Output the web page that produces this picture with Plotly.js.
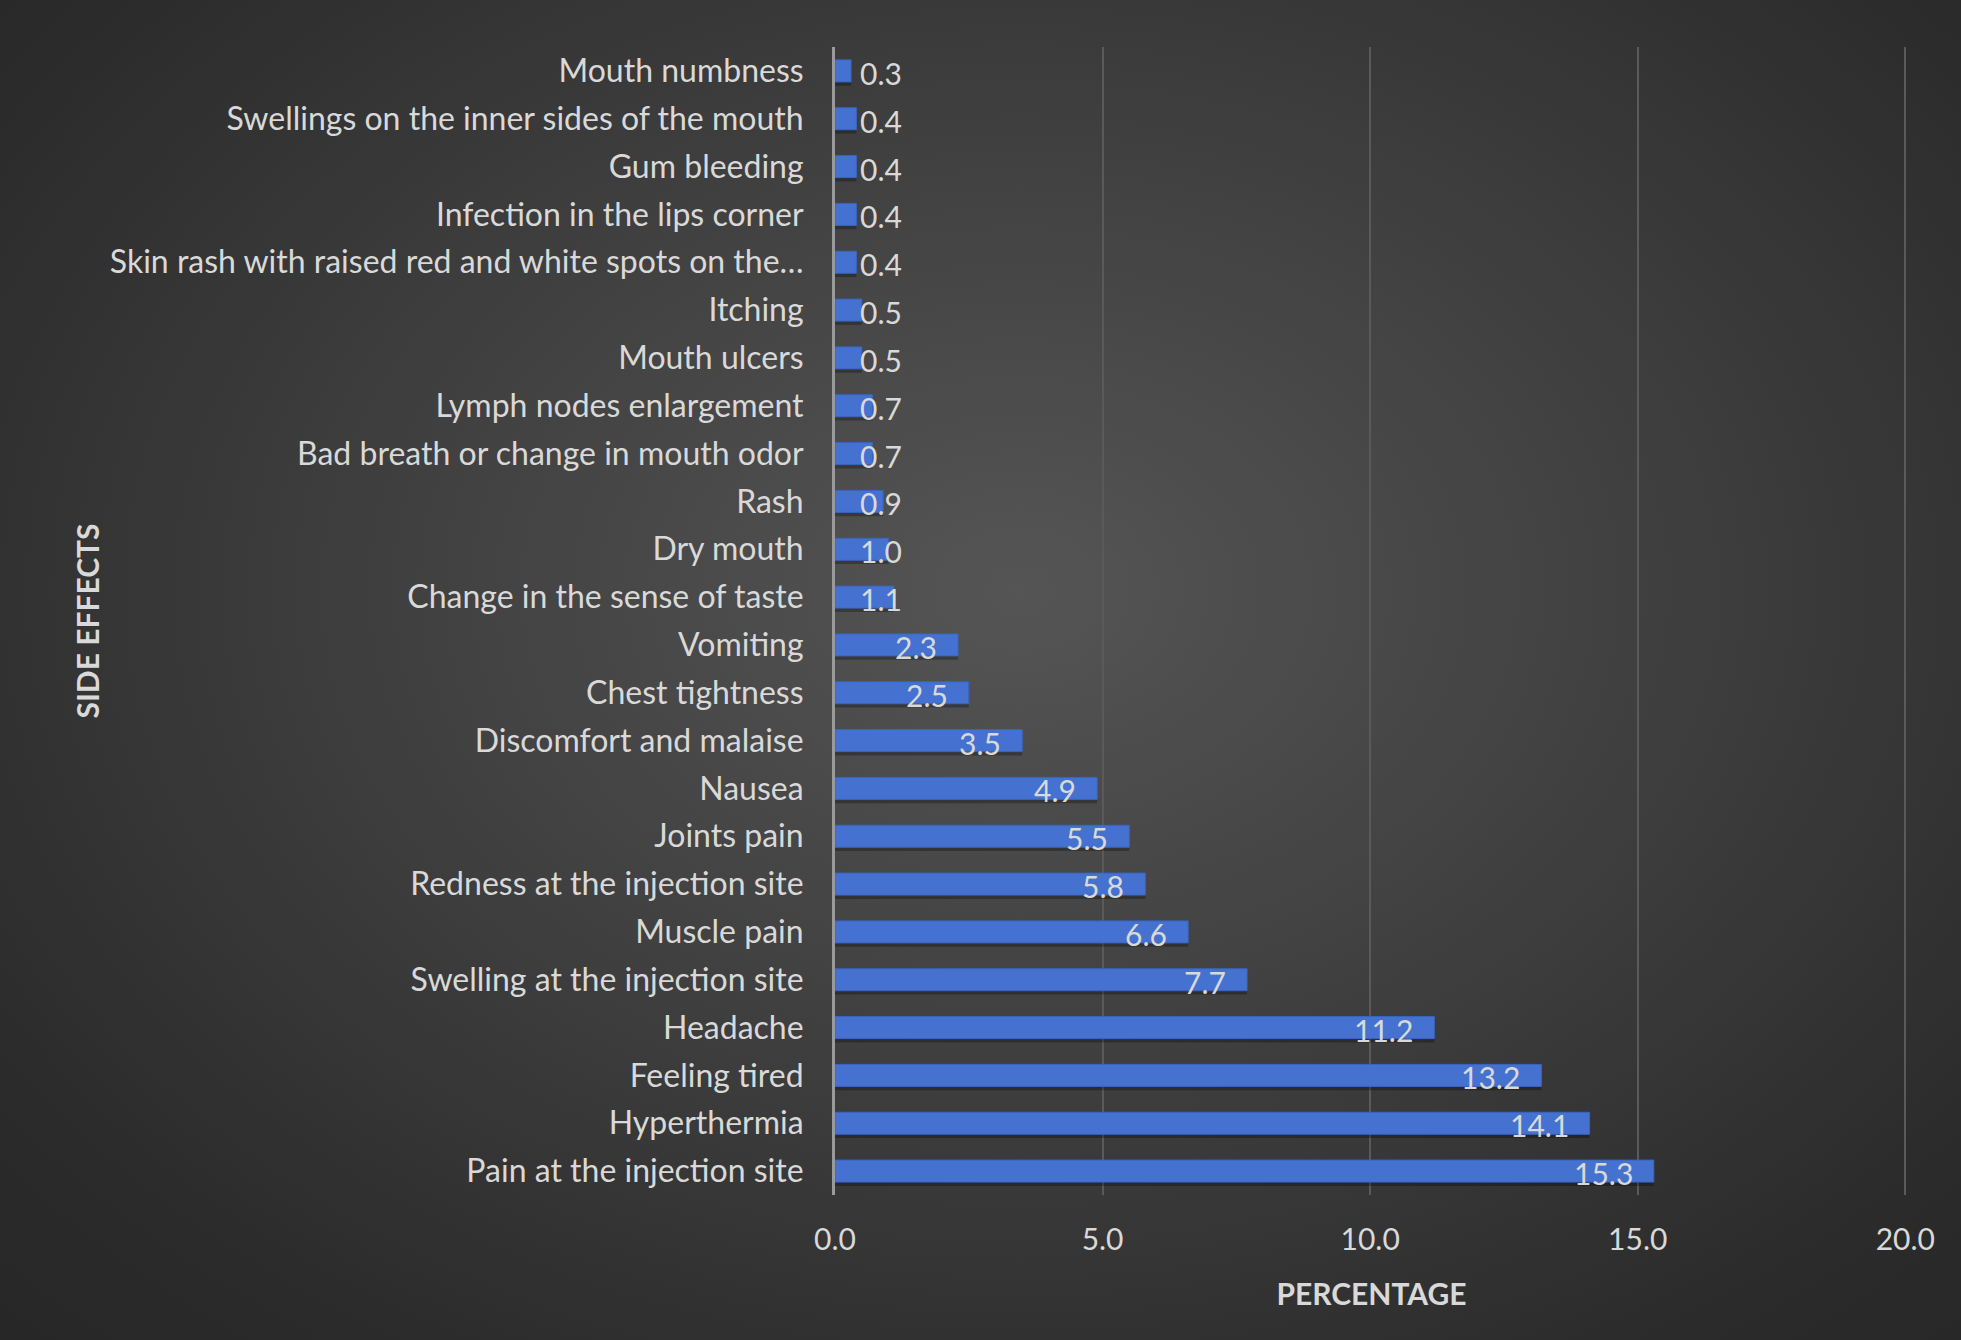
<!DOCTYPE html>
<html>
<head>
<meta charset="utf-8">
<script src="https://cdn.plot.ly/plotly-3.0.1.min.js"></script>
<style>
html, body { margin:0; padding:0; width:1961px; height:1340px; overflow:hidden; }
body { background: radial-gradient(ellipse 75% 80% at 52% 44%, #555555 0%, #414141 40%, #2c2c2c 80%, #262626 100%); }
#chart { width:1961px; height:1340px; }
</style>
</head>
<body>
<div id="chart"></div>
<script>
// Categories from bottom to top
const categories = [
  "Pain at the injection site",
  "Hyperthermia",
  "Feeling tired",
  "Headache",
  "Swelling at the injection site",
  "Muscle pain",
  "Redness at the injection site",
  "Joints pain",
  "Nausea",
  "Discomfort and malaise",
  "Chest tightness",
  "Vomiting",
  "Change in the sense of taste",
  "Dry mouth",
  "Rash",
  "Bad breath or change in mouth odor",
  "Lymph nodes enlargement",
  "Mouth ulcers",
  "Itching",
  "Skin rash with raised red and white spots on the…",
  "Infection in the lips corner",
  "Gum bleeding",
  "Swellings on the inner sides of the mouth",
  "Mouth numbness"
];
const percentages = [15.3, 14.1, 13.2, 11.2, 7.7, 6.6, 5.8, 5.5, 4.9, 3.5, 2.5, 2.3, 1.1, 1.0, 0.9, 0.7, 0.7, 0.5, 0.5, 0.4, 0.4, 0.4, 0.4, 0.3];
const xTickValues = [0, 5, 10, 15, 20];
const xTickLabels = ["0.0", "5.0", "10.0", "15.0", "20.0"];
const xAxisTitle = "PERCENTAGE";
const yAxisTitle = "SIDE EFFECTS";

const FONT = "Lato, 'Open Sans', sans-serif";
const TXT = "#d9d9d9";

const W = 1961, H = 1340;
const margin = {l: 835, r: 53, t: 47, b: 145};
const xMax = 20.05;
const pxPerUnit = (W - margin.l - margin.r) / xMax;
const labelPad = 23, labelW = 46;

const shadow = {
  type: 'bar', orientation: 'h',
  x: percentages, y: categories,
  width: 0.46, offset: -0.31,
  marker: {color: 'rgba(0,0,0,0.28)', line: {width: 0}},
  hoverinfo: 'skip', showlegend: false
};
const bars = {
  type: 'bar', orientation: 'h',
  x: percentages, y: categories,
  width: 0.46, offset: -0.23,
  marker: {color: '#4572d0', line: {color: '#3a64c0', width: 1}},
  showlegend: false
};

const annotations = percentages.map((v, i) => {
  const fitsInside = v * pxPerUnit - labelPad - labelW >= labelPad;
  return fitsInside
    ? {x: v, y: categories[i], xref: 'x', yref: 'y', text: v.toFixed(1), showarrow: false,
       xanchor: 'right', xshift: -labelPad + 4, yshift: -2, font: {family: FONT, size: 30, color: TXT}}
    : {x: 0, y: categories[i], xref: 'x', yref: 'y', text: v.toFixed(1), showarrow: false,
       xanchor: 'left', xshift: labelPad, yshift: -2, font: {family: FONT, size: 30, color: TXT}};
});

const layout = {
  width: W, height: H,
  margin: margin,
  paper_bgcolor: 'rgba(0,0,0,0)',
  plot_bgcolor: 'rgba(0,0,0,0)',
  barmode: 'overlay',
  font: {family: FONT, color: TXT},
  xaxis: {
    range: [0, xMax],
    tickvals: xTickValues, ticktext: xTickLabels,
    showgrid: true, gridcolor: '#5a5a5a', gridwidth: 2,
    zeroline: false, showline: false,
    ticks: '', ticklabelstandoff: 24,
    tickfont: {family: FONT, size: 30, color: TXT},
    title: {text: '<b>' + xAxisTitle + '</b>', font: {family: FONT, size: 30, color: TXT}, standoff: 28},
    fixedrange: true
  },
  yaxis: {
    type: 'category',
    categoryorder: 'array', categoryarray: categories,
    range: [-0.5, categories.length - 0.5],
    showgrid: false, zeroline: false,
    showline: true, linecolor: '#9a9a9a', linewidth: 3,
    ticks: '', ticklabelstandoff: 22,
    tickfont: {family: FONT, size: 32, color: TXT},
    title: {text: '<b>' + yAxisTitle + '</b>', font: {family: FONT, size: 30, color: TXT}, standoff: 2},
    automargin: false,
    fixedrange: true
  },
  annotations: annotations
};

Plotly.newPlot('chart', [shadow, bars], layout, {displayModeBar: false, staticPlot: true});
</script>
</body>
</html>
